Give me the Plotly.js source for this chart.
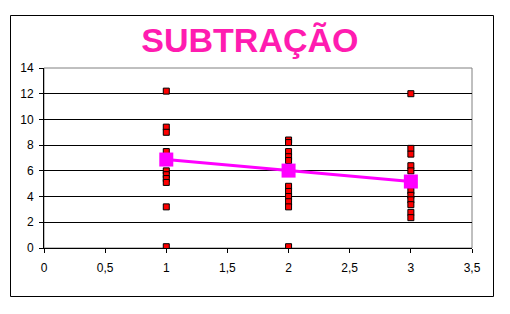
<!DOCTYPE html>
<html>
<head>
<meta charset="utf-8">
<script src="https://cdn.plot.ly/plotly-3.0.1.min.js"></script>
<style>html,body{margin:0;padding:0;background:#fff;}#chart{width:510px;height:314px;}</style>
</head>
<body>
<div id="chart"></div>
<script>
// Individual observations per group
const groupX1 = [1,1,1,1,1,1,1,1,1,1];
const groupY1 = [12.2, 9.4, 9.0, 7.5, 6.0, 5.7, 5.4, 5.1, 3.2, 0.1];
const groupX2 = [2,2,2,2,2,2,2,2,2,2,2];
const groupY2 = [8.4, 8.2, 7.5, 7.1, 6.8, 4.8, 4.4, 4.0, 3.6, 3.2, 0.1];
const groupX3 = [3,3,3,3,3,3,3,3,3,3,3];
const groupY3 = [12.0, 7.75, 7.3, 6.4, 6.0, 4.45, 4.1, 3.75, 3.37, 2.77, 2.36];
// Group means
const meanX = [1, 2, 3];
const meanY = [6.88, 6.02, 5.17];
const xTicks = [0, 0.5, 1, 1.5, 2, 2.5, 3, 3.5];
const yTicks = [0, 2, 4, 6, 8, 10, 12, 14];

const ptsX = groupX1.concat(groupX2, groupX3);
const ptsY = groupY1.concat(groupY2, groupY3);

const data = [
  {
    x: ptsX, y: ptsY, type: 'scatter', mode: 'markers',
    marker: {symbol: 'square', size: 6, color: '#ff0000', line: {color: '#000000', width: 1}},
    hoverinfo: 'x+y'
  },
  {
    x: meanX, y: meanY, type: 'scatter', mode: 'lines+markers',
    line: {color: '#ff00ff', width: 3},
    marker: {symbol: 'square', size: 14, color: '#ff00ff'},
    hoverinfo: 'x+y'
  }
];

const layout = {
  width: 510, height: 314,
  margin: {l: 44, r: 38, t: 68, b: 66},
  paper_bgcolor: '#ffffff', plot_bgcolor: '#ffffff',
  showlegend: false,
  separators: ', ',
  font: {family: 'Liberation Sans, Arial, sans-serif', size: 12, color: '#000000'},
  title: {
    text: 'SUBTRAÇÃO',
    font: {family: 'Liberation Sans, Arial, sans-serif', size: 34, color: '#ff1cb0', weight: 'bold'},
    xref: 'container', yref: 'container',
    x: 0.49, xanchor: 'center',
    y: 1 - 40/314, yanchor: 'middle'
  },
  xaxis: {
    range: [0, 3.5], tickvals: xTicks, ticktext: xTicks.map(v => String(v).replace('.', ',')),
    showgrid: false, zeroline: false,
    showline: true, linecolor: '#000000', linewidth: 1,
    ticks: 'outside', ticklen: 4, tickcolor: '#000000', tickwidth: 1,
    ticklabelstandoff: 5,
    fixedrange: true
  },
  yaxis: {
    range: [0, 14], tickvals: yTicks,
    showgrid: true, gridcolor: '#000000', gridwidth: 1, zeroline: false,
    showline: true, linecolor: '#000000', linewidth: 1,
    ticks: 'outside', ticklen: 4, tickcolor: '#000000', tickwidth: 1,
    ticklabelstandoff: 3,
    fixedrange: true
  },
  shapes: [
    {type: 'rect', xref: 'paper', yref: 'paper', x0: 0, x1: 1, y0: 0, y1: 1,
     line: {color: '#808080', width: 1}, layer: 'below'},
    {type: 'rect', xref: 'paper', yref: 'paper',
     x0: (10.5 - 44) / 428, x1: (493.5 - 44) / 428,
     y0: (248 - 296.5) / 180, y1: (248 - 15.5) / 180,
     line: {color: '#000000', width: 1}, layer: 'below'}
  ]
};

Plotly.newPlot('chart', data, layout, {displayModeBar: false, staticPlot: true});
</script>
</body>
</html>
